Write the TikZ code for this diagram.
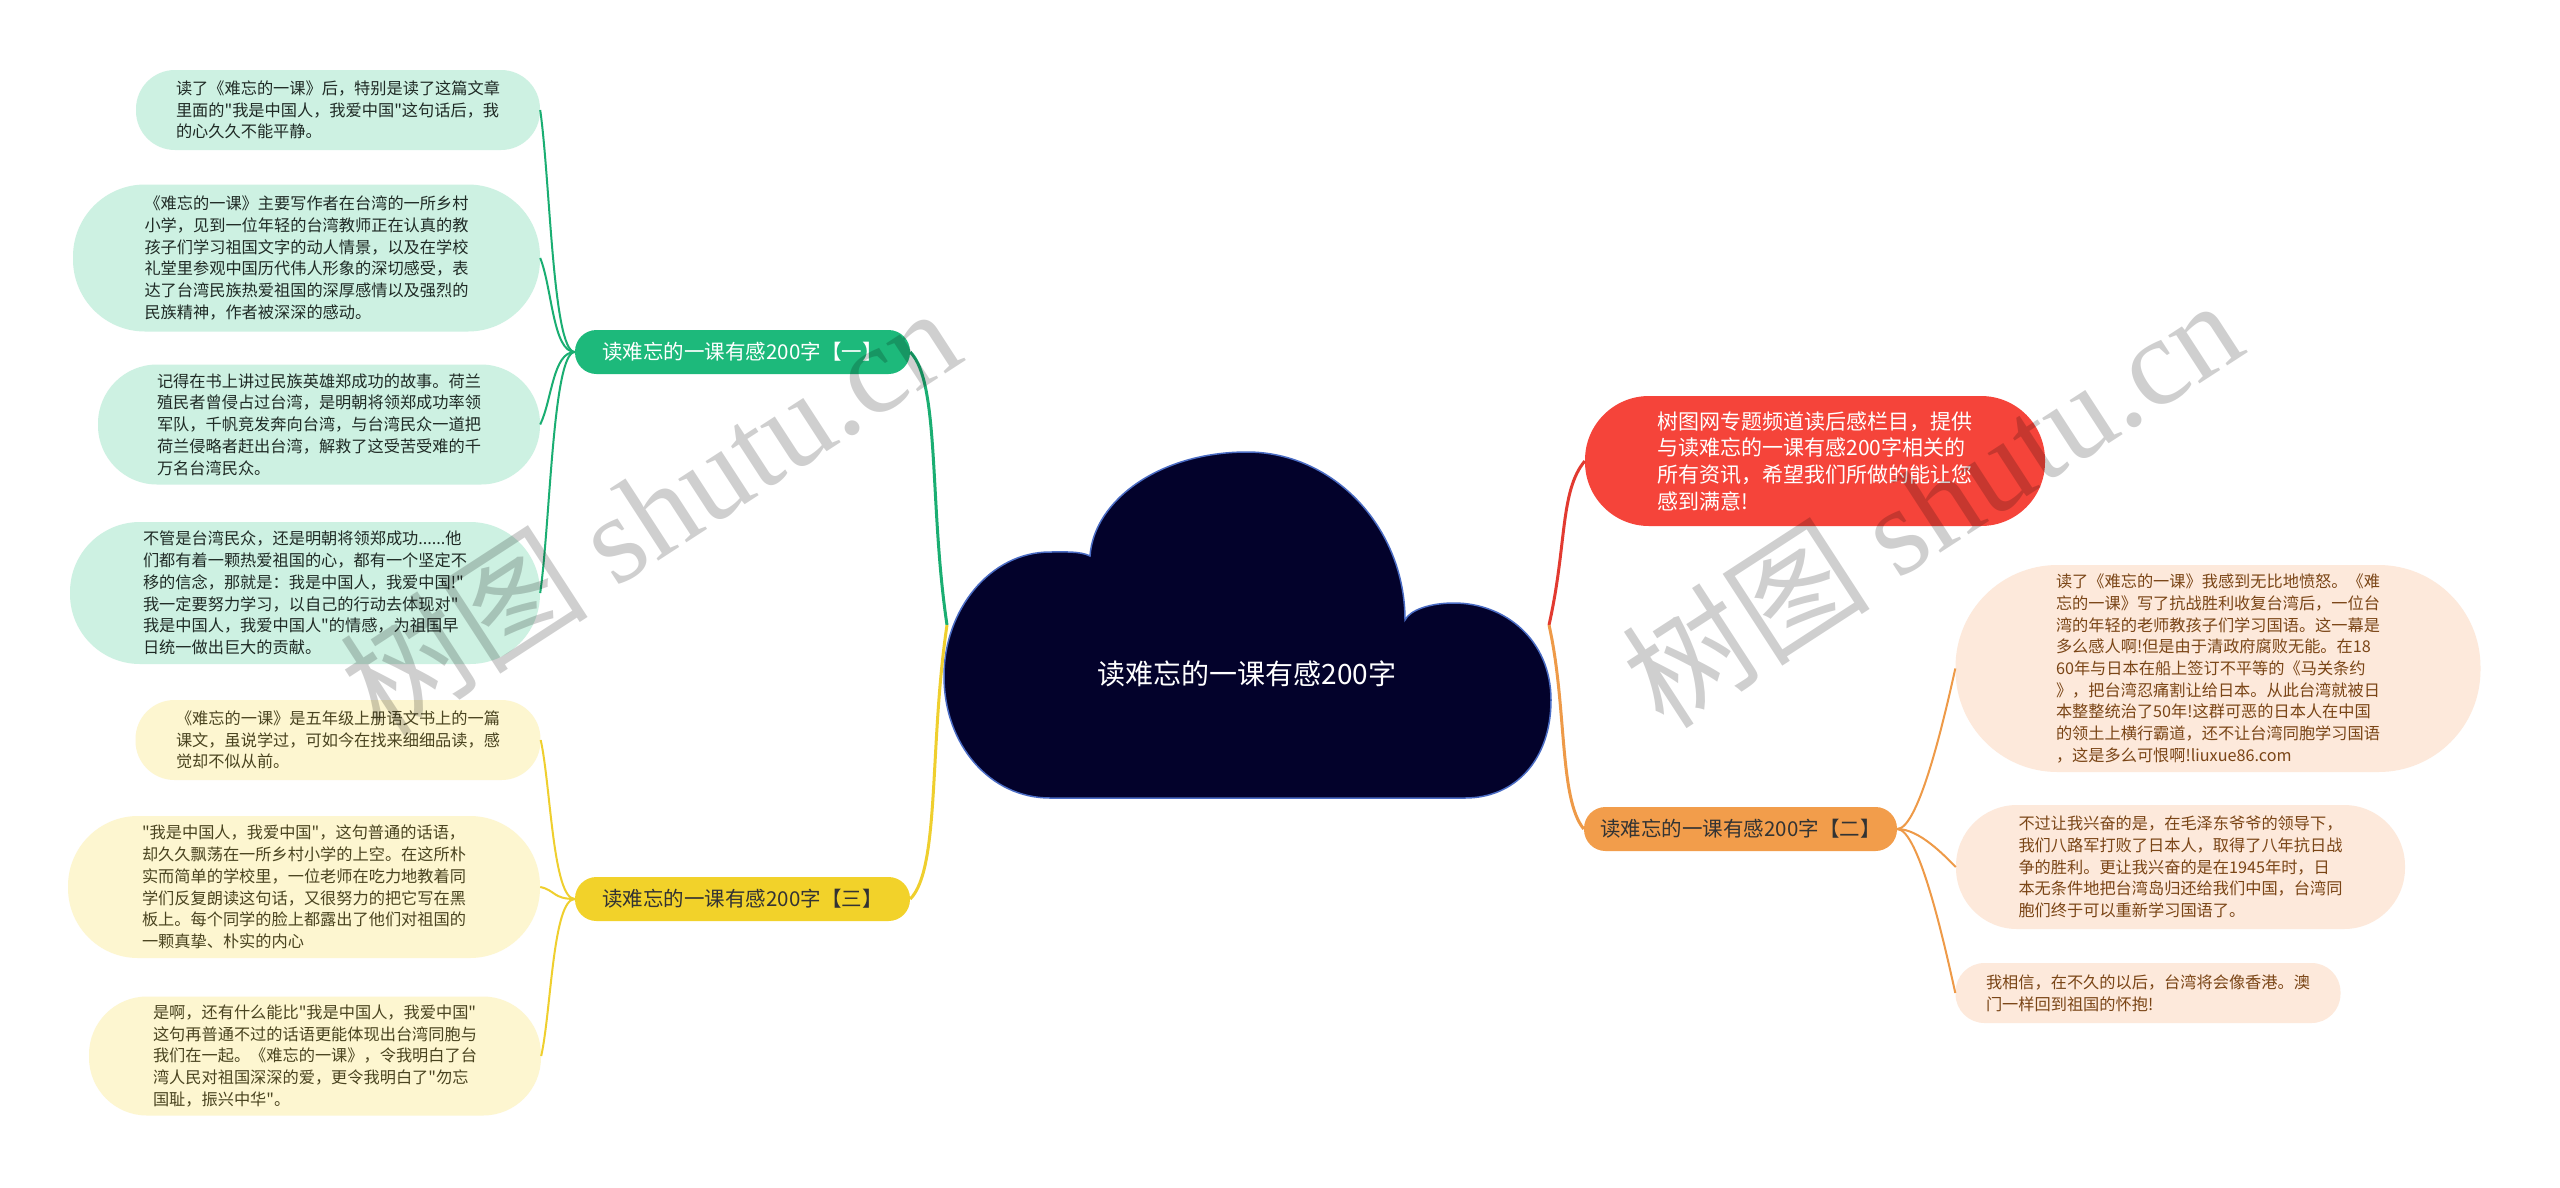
\documentclass[tikz,border=0pt]{standalone}
\usepackage{fontspec}
\setmainfont{Noto Sans CJK SC}[Ligatures=TeXOff]
\newfontfamily\wmlatin{Liberation Serif}
\usetikzlibrary{calc}
\definecolor{rootfill}{HTML}{03022B}
\definecolor{rootline}{HTML}{4A6CC4}
\definecolor{gmain}{HTML}{1DB97B}
\definecolor{glinec}{HTML}{1AAE72}
\definecolor{gleaf}{HTML}{CDF1E2}
\definecolor{gtext}{HTML}{1F2A25}
\definecolor{ymain}{HTML}{F2D22A}
\definecolor{ylinec}{HTML}{EFCF2E}
\definecolor{yleaf}{HTML}{FDF6D0}
\definecolor{ytext}{HTML}{4A4420}
\definecolor{rmain}{HTML}{F5443A}
\definecolor{rlinec}{HTML}{E23A30}
\definecolor{omain}{HTML}{F29D4B}
\definecolor{olinec}{HTML}{EE9A48}
\definecolor{oleaf}{HTML}{FDE9DB}
\definecolor{otext}{HTML}{7A4516}
\definecolor{darktext}{HTML}{333333}
\tikzset{
  box/.style={rectangle, inner sep=0pt, align=left, anchor=center},
  leaffont/.style={font=\fontsize{16.2}{21.7}\selectfont},
  leafg/.style={box, leaffont, fill=gleaf, text=gtext},
  leafy/.style={box, leaffont, fill=yleaf, text=ytext},
  leafo/.style={box, leaffont, fill=oleaf, text=otext},
  mainbox/.style={box, font=\fontsize{20.5}{24}\selectfont, minimum height=44, rounded corners=21.5},
  gcon/.style={draw=glinec, line width=2},
  ycon/.style={draw=ylinec, line width=2},
  ocon/.style={draw=olinec, line width=2},
  rcon/.style={draw=rlinec, line width=2},
  wm/.style={text=black, text opacity=0.19, font=\fontsize{125}{130}\selectfont, inner sep=0pt}
}
\begin{document}
\begin{tikzpicture}[x=1pt, y=-1pt]
\useasboundingbox (0,0) rectangle (2560,1187);
\fill[white] (0,0) rectangle (2560,1187);

% root cloud
\filldraw[fill=rootfill, draw=rootline, line width=1.5]
  (1050,798) -- (1465,798)
  .. controls (1515,798) and (1551,760) .. (1551,700)
  .. controls (1551,640) and (1505,603) .. (1454,603)
  .. controls (1430,603) and (1410,610) .. (1405,620)
  .. controls (1405,528) and (1334,452) .. (1247,452)
  .. controls (1160,452) and (1094,500) .. (1090,556)
  .. controls (1080,551) and (1065,552) .. (1050,552)
  .. controls (990,552) and (944,610) .. (944,676)
  .. controls (944,745) and (990,798) .. (1050,798) -- cycle;
\node[box, text=white, font=\fontsize{28}{32}\selectfont] (root) at (1247,674) {读难忘的一课有感200字};
\coordinate (rl) at (947,625);
\coordinate (rr) at (1549,625);

% main branch nodes
\node[mainbox, fill=gmain, text=white, minimum width=335] (gm) at (742.5,352) {读难忘的一课有感200字【一】};
\node[mainbox, fill=ymain, text=darktext, minimum width=335] (ym) at (742.5,899) {读难忘的一课有感200字【三】};
\node[mainbox, fill=omain, text=darktext, minimum width=313] (om) at (1740.5,829) {读难忘的一课有感200字【二】};
\node[box, fill=rmain, text=white, font=\fontsize{21}{26.7}\selectfont, minimum width=460, minimum height=130, rounded corners=64] (rm) at (1815,461) {树图网专题频道读后感栏目，提供\\与读难忘的一课有感200字相关的\\所有资讯，希望我们所做的能让您\\感到满意!};

% green leaves
\node[leafg, minimum width=404, minimum height=80, rounded corners=39] (l1) at (338,110) {读了《难忘的一课》后，特别是读了这篇文章\\里面的"我是中国人，我爱中国"这句话后，我\\的心久久不能平静。};
\node[leafg, minimum width=467, minimum height=147, rounded corners=72] (l2) at (306.5,258) {《难忘的一课》主要写作者在台湾的一所乡村\\小学，见到一位年轻的台湾教师正在认真的教\\孩子们学习祖国文字的动人情景，以及在学校\\礼堂里参观中国历代伟人形象的深切感受，表\\达了台湾民族热爱祖国的深厚感情以及强烈的\\民族精神，作者被深深的感动。};
\node[leafg, minimum width=442, minimum height=120, rounded corners=59] (l3) at (319,424.5) {记得在书上讲过民族英雄郑成功的故事。荷兰\\殖民者曾侵占过台湾，是明朝将领郑成功率领\\军队，千帆竞发奔向台湾，与台湾民众一道把\\荷兰侵略者赶出台湾，解救了这受苦受难的千\\万名台湾民众。};
\node[leafg, minimum width=470, minimum height=142, rounded corners=70] (l4) at (305,593) {不管是台湾民众，还是明朝将领郑成功......他\\们都有着一颗热爱祖国的心，都有一个坚定不\\移的信念，那就是：我是中国人，我爱中国!"\\我一定要努力学习，以自己的行动去体现对"\\我是中国人，我爱中国人"的情感，为祖国早\\日统一做出巨大的贡献。};

% yellow leaves
\node[leafy, minimum width=405, minimum height=80, rounded corners=39] (y1) at (338,740) {《难忘的一课》是五年级上册语文书上的一篇\\课文，虽说学过，可如今在找来细细品读，感\\觉却不似从前。};
\node[leafy, minimum width=472, minimum height=142, rounded corners=70] (y2) at (304,887) {"我是中国人，我爱中国"，这句普通的话语，\\却久久飘荡在一所乡村小学的上空。在这所朴\\实而简单的学校里，一位老师在吃力地教着同\\学们反复朗读这句话，又很努力的把它写在黑\\板上。每个同学的脸上都露出了他们对祖国的\\一颗真挚、朴实的内心};
\node[leafy, minimum width=452, minimum height=119, rounded corners=58] (y3) at (315,1056) {是啊，还有什么能比"我是中国人，我爱中国"\\这句再普通不过的话语更能体现出台湾同胞与\\我们在一起。《难忘的一课》，令我明白了台\\湾人民对祖国深深的爱，更令我明白了"勿忘\\国耻，振兴中华"。};

% orange leaves
\node[leafo, minimum width=525, minimum height=207, rounded corners=102] (o1) at (2218,668.5) {读了《难忘的一课》我感到无比地愤怒。《难\\忘的一课》写了抗战胜利收复台湾后，一位台\\湾的年轻的老师教孩子们学习国语。这一幕是\\多么感人啊!但是由于清政府腐败无能。在18\\60年与日本在船上签订不平等的《马关条约\\》，把台湾忍痛割让给日本。从此台湾就被日\\本整整统治了50年!这群可恶的日本人在中国\\的领土上横行霸道，还不让台湾同胞学习国语\\，这是多么可恨啊!liuxue86.com};
\node[leafo, minimum width=449, minimum height=124, rounded corners=61] (o2) at (2180.5,867) {不过让我兴奋的是，在毛泽东爷爷的领导下，\\我们八路军打败了日本人，取得了八年抗日战\\争的胜利。更让我兴奋的是在1945年时，日\\本无条件地把台湾岛归还给我们中国，台湾同\\胞们终于可以重新学习国语了。};
\node[leafo, minimum width=385, minimum height=60, rounded corners=29] (o3) at (2148,993) {我相信，在不久的以后，台湾将会像香港。澳\\门一样回到祖国的怀抱!};

% root connectors
\draw[gcon, line width=3] (rl) .. controls +(-18,-120) and +(30,30) .. (gm.east);
\draw[ycon, line width=3] (rl) .. controls +(-18,120) and +(30,-30) .. (ym.east);
\draw[rcon, line width=3] (rr) .. controls +(18,-80) and +(-25,30) .. (rm.west);
\draw[ocon, line width=3] (rr) .. controls +(18,80) and +(-25,-30) .. (om.west);

% leaf connectors
\draw[gcon] (gm.west) .. controls +(-22,0) and +(10,70) .. (l1.east);
\draw[gcon] (gm.west) .. controls +(-22,0) and +(12,30) .. (l2.east);
\draw[gcon] (gm.west) .. controls +(-22,0) and +(12,-25) .. (l3.east);
\draw[gcon] (gm.west) .. controls +(-22,0) and +(10,-70) .. (l4.east);
\draw[ycon] (ym.west) .. controls +(-22,0) and +(10,45) .. (y1.east);
\draw[ycon] (ym.west) .. controls +(-22,0) and +(15,3) .. (y2.east);
\draw[ycon] (ym.west) .. controls +(-22,0) and +(10,-45) .. (y3.east);
\draw[ocon] (om.east) .. controls +(22,0) and +(-10,45) .. (o1.west);
\draw[ocon] (om.east) .. controls +(22,0) and +(-12,-12) .. (o2.west);
\draw[ocon] (om.east) .. controls +(22,0) and +(-10,-45) .. (o3.west);

% watermarks
\node[wm, rotate=33] (wm1) at (649,510) {树图 {\wmlatin shutu.cn}};
\node[wm, rotate=33] (wm2) at (1931,502) {树图 {\wmlatin shutu.cn}};
\end{tikzpicture}
\end{document}
